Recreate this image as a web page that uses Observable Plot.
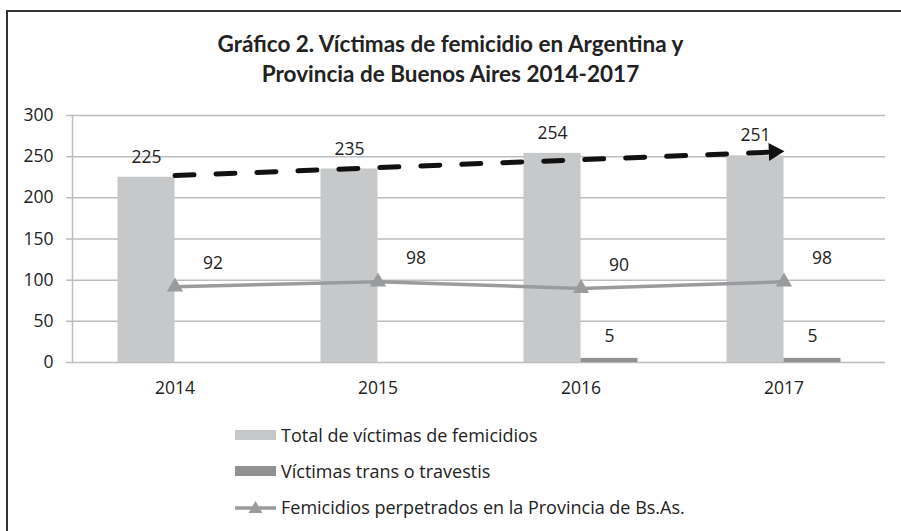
<!DOCTYPE html>
<html>
<head>
<meta charset="utf-8">
<script src="https://cdn.jsdelivr.net/npm/d3@7"></script>
<script src="https://cdn.jsdelivr.net/npm/@observablehq/plot@0.6"></script>
<style>
  html, body { margin: 0; padding: 0; background: #fff; }
  body { width: 901px; height: 531px; overflow: hidden; position: relative; font-family: "Open Sans", sans-serif; color: #222; }
  #frame { position: absolute; left: 6px; top: 10px; width: 900px; height: 540px; border-left: 2.5px solid #333; border-top: 2.5px solid #333; box-sizing: border-box; }
  #title { position: absolute; left: 0; top: 29px; width: 901px; text-align: center; font-family: Lato, sans-serif; font-weight: bold; font-size: 22.5px; line-height: 30px; color: #222; }
  #chart { position: absolute; left: 0; top: 100px; }
  #legend { position: absolute; left: 235px; top: 417px; font-size: 18px; color: #222; }
  .row { position: relative; height: 36px; display: flex; align-items: center; }
  .sw { width: 41px; height: 10px; margin-right: 5px; }
</style>
</head>
<body>
<div id="frame"></div>
<div id="title">Gráfico 2. Víctimas de femicidio en Argentina y<br>Provincia de Buenos Aires 2014-2017</div>
<div id="chart"></div>
<div id="legend"></div>
<script>
const years = ["2014", "2015", "2016", "2017"];
const total = [225, 235, 254, 251];
const trans = [null, null, 5, 5];
const provincia = [92, 98, 90, 98];
const trendYears = ["2014", "2017"];
const trendValues = [227, 256];
const yTicks = [0, 50, 100, 150, 200, 250, 300];
const seriesNames = ["Total de víctimas de femicidios", "Víctimas trans o travestis", "Femicidios perpetrados en la Provincia de Bs.As."];

const cTotal = "#c7c8ca", cTrans = "#909193", cLine = "#9a9b9d", cGrid = "#bcbdbf";

const data = years.map((year, i) => ({year, total: total[i], trans: trans[i], prov: provincia[i]}));
const transData = data.filter(d => d.trans != null);
const trend = [{x1: trendYears[0], y1: trendValues[0], x2: trendYears[1], y2: trendValues[1]}];

const half = 28.5;

const plot = Plot.plot({
  width: 901,
  height: 310,
  marginLeft: 72,
  marginRight: 16,
  marginTop: 15,
  marginBottom: 48,
  style: {fontFamily: "'Open Sans', sans-serif", fontSize: "17px", color: "#222", background: "transparent"},
  x: {type: "band", domain: years, paddingInner: 0.72, paddingOuter: 0.36},
  y: {domain: [0, 300]},
  marks: [
    Plot.ruleY(yTicks, {stroke: cGrid, strokeWidth: 1.5}),
    Plot.axisY(yTicks, {tickSize: 6, tickPadding: 13, stroke: cGrid, strokeWidth: 1.5, fill: "#222", fontSize: 17.5, label: null}),
    Plot.axisX({tickSize: 0, tickPadding: 19, fill: "#222", fontSize: 17.5, label: null}),
    Plot.frame({anchor: "left", stroke: cGrid, strokeWidth: 1.5}),
    Plot.barY(data, {x: "year", y: "total", dx: -half, fill: cTotal}),
    Plot.barY(transData, {x: "year", y: "trans", dx: half, fill: cTrans}),
    Plot.text(data, {x: "year", y: "total", text: d => String(d.total), dx: -half, dy: -20, fill: "#222", fontSize: 17.5}),
    Plot.text(transData, {x: "year", y: "trans", text: d => String(d.trans), dx: half, dy: -22, fill: "#222", fontSize: 17.5}),
    Plot.line(data, {x: "year", y: "prov", stroke: cLine, strokeWidth: 3.5}),
    Plot.dot(data, {x: "year", y: "prov", symbol: "triangle", r: 6, fill: cLine, stroke: "none"}),
    Plot.text(data, {x: "year", y: "prov", text: d => String(d.prov), dx: 38, dy: -23, fill: "#222", fontSize: 17.5}),
    Plot.link(trend, {x1: "x1", y1: "y1", x2: "x2", y2: "y2", stroke: "#111", strokeWidth: 5, strokeDasharray: "19,22", strokeLinecap: "round"}),
    Plot.dot([trend[0]], {x: "x2", y: "y2", symbol: "triangle", r: 6.7, rotate: 88, fill: "#111", stroke: "none", dx: -10})
  ]
});
document.getElementById("chart").appendChild(plot);

// legend
const legend = document.getElementById("legend");
const colors = [cTotal, cTrans];
seriesNames.forEach((name, i) => {
  const row = document.createElement("div");
  row.className = "row";
  if (i < 2) {
    const sw = document.createElement("div");
    sw.className = "sw";
    sw.style.background = colors[i];
    row.appendChild(sw);
  } else {
    const ln = document.createElementNS("http://www.w3.org/2000/svg", "svg");
    ln.setAttribute("width", 45); ln.setAttribute("height", 16);
    ln.style.marginRight = "1px";
    ln.innerHTML = `<line x1="0" x2="41" y1="9" y2="9" stroke="${cLine}" stroke-width="3.5"/>` +
      `<path d="M${20.5 - 7},14 L20.5,2 L${20.5 + 7},14 Z" fill="${cLine}"/>`;
    row.appendChild(ln);
  }
  const t = document.createElement("span");
  t.textContent = name;
  row.appendChild(t);
  legend.appendChild(row);
});
</script>
</body>
</html>
